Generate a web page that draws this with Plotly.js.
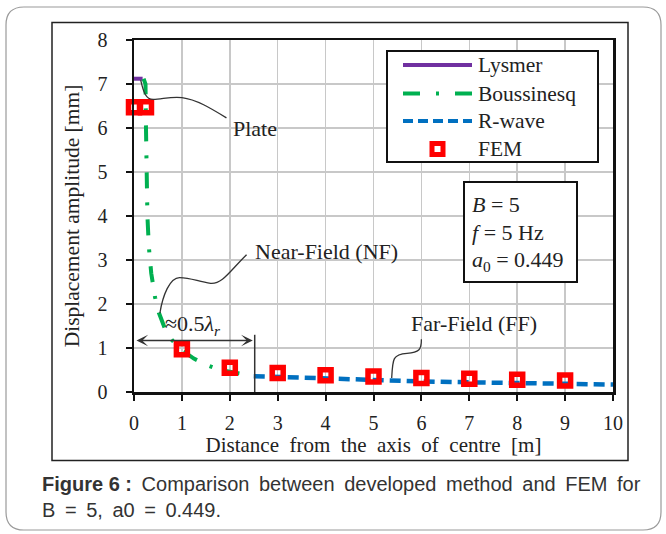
<!DOCTYPE html>
<html>
<head>
<meta charset="utf-8">
<script src="https://cdn.plot.ly/plotly-3.0.1.min.js"></script>
<style>html,body{margin:0;padding:0;background:#fff;}#chart{width:666px;height:534px;}</style>
</head>
<body>
<div id="chart"></div>
<script>
// ---- data ----
const lysmerX = [0, 0.18];
const lysmerY = [7.12, 7.12];
const boussX = [0.2, 0.24, 0.25, 0.26, 0.28, 0.31, 0.36, 0.44, 0.52, 0.66, 0.8, 1.0, 1.25, 1.5, 1.8, 2.2];
const boussY = [7.12, 7.0, 6.0, 5.0, 4.0, 3.3, 2.7, 2.15, 1.8, 1.4, 1.17, 0.95, 0.76, 0.62, 0.5, 0.42];
const rwaveX = [2.5, 3, 4, 5, 6, 7, 8, 9, 10];
const rwaveY = [0.36, 0.34, 0.30, 0.27, 0.24, 0.22, 0.20, 0.19, 0.17];
const femX = [0, 0.25, 1, 2, 3, 4, 5, 6, 7, 8, 9];
const femY = [6.47, 6.47, 0.97, 0.55, 0.43, 0.38, 0.35, 0.32, 0.30, 0.28, 0.26];
const xTicks = [0,1,2,3,4,5,6,7,8,9,10];
const yTicks = [0,1,2,3,4,5,6,7,8];

const PURPLE = '#7030a0', GREEN = '#00b050', BLUE = '#0070c0', RED = '#ff0000';
const SERIF = 'Liberation Serif, Times New Roman, serif';
const SANS = 'Liberation Sans, Arial, sans-serif';
const EN = '\u2002';
const WS = '\u2009 ';

// pixel -> paper helpers (plot area 134..613 x, 40..392 y)
const PX0 = 134, PX1 = 613, PY0 = 392, PY1 = 40;
const fx = p => (p - PX0) / (PX1 - PX0);
const fy = p => (PY0 - p) / (PY0 - PY1);
function roundRect(x0, y0, x1, y1, r) {
  const p = (x, y) => fx(x).toFixed(5) + ',' + fy(y).toFixed(5);
  return 'M' + p(x0 + r, y0) + ' L' + p(x1 - r, y0) + ' Q' + p(x1, y0) + ' ' + p(x1, y0 + r) +
    ' L' + p(x1, y1 - r) + ' Q' + p(x1, y1) + ' ' + p(x1 - r, y1) +
    ' L' + p(x0 + r, y1) + ' Q' + p(x0, y1) + ' ' + p(x0, y1 - r) +
    ' L' + p(x0, y0 + r) + ' Q' + p(x0, y0) + ' ' + p(x0 + r, y0) + ' Z';
}

const traces = [
  {x: lysmerX, y: lysmerY, name: 'Lysmer', mode: 'lines', line: {color: PURPLE, width: 4}},
  {x: boussX, y: boussY, name: 'Boussinesq', mode: 'lines', line: {color: GREEN, width: 4, dash: '16px,14px,3px,14px'}},
  {x: rwaveX, y: rwaveY, name: 'R-wave', mode: 'lines', line: {color: BLUE, width: 4.5, dash: '11px,6px'}},
  {x: femX, y: femY, name: 'FEM', mode: 'markers', cliponaxis: false,
   marker: {symbol: 'square-open', size: 11, color: RED, line: {color: RED, width: 5.5}}}
];

const shapes = [
  {type: 'path', xref: 'paper', yref: 'paper', path: roundRect(6, 7, 661, 530, 18), line: {color: '#9a9a9a', width: 1.2}, layer: 'below'},
  {type: 'rect', xref: 'paper', yref: 'paper', x0: fx(52), x1: fx(628), y0: fy(22.5), y1: fy(460.5), line: {color: '#222', width: 1.5}, layer: 'below'},
  // legend box
  {type: 'rect', xref: 'paper', yref: 'paper', x0: fx(387), x1: fx(598), y0: fy(51), y1: fy(162), line: {color: '#111', width: 2}, fillcolor: '#fff'},
  {type: 'line', xref: 'paper', yref: 'paper', x0: fx(403), x1: fx(472), y0: fy(65), y1: fy(65), line: {color: PURPLE, width: 4}},
  {type: 'line', xref: 'paper', yref: 'paper', x0: fx(403), x1: fx(472), y0: fy(93.5), y1: fy(93.5), line: {color: GREEN, width: 4, dash: '17px,16px,3px,16px'}},
  {type: 'line', xref: 'paper', yref: 'paper', x0: fx(403), x1: fx(472), y0: fy(121), y1: fy(121), line: {color: BLUE, width: 4, dash: '10px,5px'}},
  {type: 'rect', xref: 'paper', yref: 'paper', x0: fx(432), x1: fx(443), y0: fy(143.5), y1: fy(154.5), line: {color: RED, width: 5}},
  // parameter box
  {type: 'rect', xref: 'paper', yref: 'paper', x0: fx(464), x1: fx(577), y0: fy(182), y1: fy(282), line: {color: '#111', width: 2}, fillcolor: '#fff'},
  // leader curves
  {type: 'path', xref: 'x', yref: 'y', path: 'M0.14,7.09 C0.2,6.8 0.25,6.65 0.4,6.65 C0.6,6.66 0.8,6.72 1.0,6.69 C1.3,6.65 1.6,6.45 1.93,6.23', line: {color: '#333', width: 1.3}},
  {type: 'path', xref: 'x', yref: 'y', path: 'M2.35,3.12 C2.0,2.75 1.85,2.45 1.6,2.47 C1.35,2.5 1.2,2.6 0.95,2.6 C0.75,2.6 0.6,2.2 0.54,1.79', line: {color: '#333', width: 1.3}},
  {type: 'path', xref: 'x', yref: 'y', path: 'M6.0,1.2 C6.0,0.95 5.95,0.9 5.7,0.88 C5.4,0.86 5.4,0.75 5.38,0.32', line: {color: '#333', width: 1.3}},
  {type: 'line', xref: 'x', yref: 'y', x0: 2.52, x1: 2.52, y0: 0, y1: 1.3, line: {color: '#333', width: 1.5}}
];

const tf = (s, c) => ({family: SERIF, size: s, color: c || '#222'});
const annotations = [
  {xref: 'paper', yref: 'paper', x: fx(476), y: fy(65), xanchor: 'left', yanchor: 'middle', text: 'Lysmer', showarrow: false, font: tf(21.5)},
  {xref: 'paper', yref: 'paper', x: fx(476), y: fy(93.5), xanchor: 'left', yanchor: 'middle', text: 'Boussinesq', showarrow: false, font: tf(21.5)},
  {xref: 'paper', yref: 'paper', x: fx(476), y: fy(121), xanchor: 'left', yanchor: 'middle', text: 'R-wave', showarrow: false, font: tf(21.5)},
  {xref: 'paper', yref: 'paper', x: fx(476), y: fy(149), xanchor: 'left', yanchor: 'middle', text: 'FEM', showarrow: false, font: tf(21.5)},
  {xref: 'paper', yref: 'paper', x: fx(470), y: fy(204), xanchor: 'left', yanchor: 'middle', text: '<i>B</i> = 5', showarrow: false, font: tf(22)},
  {xref: 'paper', yref: 'paper', x: fx(470), y: fy(232.5), xanchor: 'left', yanchor: 'middle', text: '<i>f</i> = 5 Hz', showarrow: false, font: tf(22)},
  {xref: 'paper', yref: 'paper', x: fx(470), y: fy(261), xanchor: 'left', yanchor: 'middle', text: '<i>a</i><sub>0</sub> = 0.449', showarrow: false, font: tf(22)},
  {x: 2.02, y: 5.98, xanchor: 'left', yanchor: 'middle', text: 'Plate', showarrow: false, font: tf(22)},
  {x: 2.48, y: 3.2, xanchor: 'left', yanchor: 'middle', text: 'Near-Field (NF)', showarrow: false, font: tf(22)},
  {x: 5.74, y: 1.55, xanchor: 'left', yanchor: 'middle', text: 'Far-Field (FF)', showarrow: false, font: tf(22)},
  {x: 0.6, y: 1.52, xanchor: 'left', yanchor: 'middle', text: '≈0.5<i>λ<sub>r</sub></i>', showarrow: false, font: tf(22)},
  {x: 2.48, y: 1.17, ax: 0.02, ay: 1.17, axref: 'x', ayref: 'y', text: '', showarrow: true, arrowhead: 3, startarrowhead: 3, arrowside: 'end+start', arrowsize: 1.3, arrowwidth: 1.5, arrowcolor: '#333', standoff: 0, startstandoff: 0},
  {xref: 'paper', yref: 'paper', x: fx(40), y: fy(484), xanchor: 'left', yanchor: 'middle', showarrow: false,
   text: '<b>Figure 6 :</b>' + WS + ['Comparison', 'between', 'developed', 'method', 'and', 'FEM', 'for'].join(WS), font: {family: SANS, size: 20, color: '#333'}},
  {xref: 'paper', yref: 'paper', x: fx(40), y: fy(510), xanchor: 'left', yanchor: 'middle', showarrow: false,
   text: ['B', '=', '5,', 'a0', '=', '0.449.'].join(WS), font: {family: SANS, size: 20, color: '#333'}}
];

const axisCommon = {
  showgrid: true, gridcolor: '#c8c8c8', gridwidth: 1.5,
  showline: true, linecolor: '#111', linewidth: 2.5, mirror: true,
  ticks: 'outside', ticklen: 6, tickwidth: 2, tickcolor: '#111',
  tickfont: tf(20), zeroline: false
};

const layout = {
  width: 666, height: 534,
  margin: {l: 134, r: 53, t: 40, b: 142},
  paper_bgcolor: '#fff', plot_bgcolor: '#fff',
  showlegend: false,
  xaxis: Object.assign({}, axisCommon, {range: [0, 10], tickvals: xTicks, ticklabelstandoff: 5,
    title: {text: ['Distance', 'from', 'the', 'axis', 'of', 'centre', '[m]'].join(EN), font: tf(21), standoff: 3}}),
  yaxis: Object.assign({}, axisCommon, {range: [0, 8], tickvals: yTicks, ticklabelstandoff: 14,
    title: {text: 'Displacement amplitude [mm]', font: tf(21.5), standoff: 12}}),
  shapes: shapes,
  annotations: annotations
};

Plotly.newPlot('chart', traces, layout, {displayModeBar: false, staticPlot: true});
</script>
</body>
</html>
